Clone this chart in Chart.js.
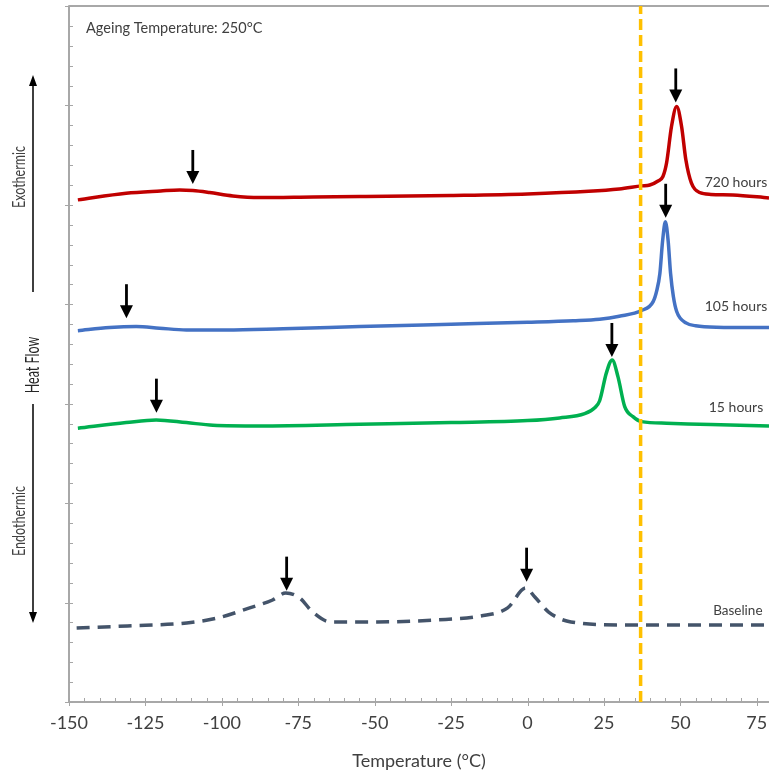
<!DOCTYPE html>
<html>
<head>
<meta charset="utf-8">
<script src="https://cdn.jsdelivr.net/npm/chart.js@4.4.1/dist/chart.umd.min.js"></script>
<style>
  html, body { margin: 0; padding: 0; background: #fff; }
</style>
</head>
<body>
<canvas id="canvas" width="769" height="774"></canvas>
<script>
// DSC heat flow traces after ageing at 250°C (curves offset vertically, arbitrary units)
const tempTicks = [-150, -125, -100, -75, -50, -25, 0, 25, 50, 75];

const t720 = [-147.1, -131.3, -120, -113.8, -109.5, -104, -96.4, -87.6, -70, -54.9, -25, 0, 20, 30, 37.3, 40, 42.7, 44.3, 45.5, 47.1, 48.8, 50.4, 51.8, 53.6, 56.3, 60, 67.2, 79];
const hf720 = [50.5, 51.17, 51.4, 51.5, 51.44, 51.24, 50.9, 50.74, 50.8, 50.84, 50.95, 51.1, 51.36, 51.6, 51.91, 52.0, 52.4, 52.85, 54.23, 57.88, 59.89, 57.88, 54.53, 52.21, 51.24, 51.05, 51.0, 50.7];

const t105 = [-147.1, -136.7, -128, -120.4, -111.6, -98.5, -80, -54.9, -25, 0, 15, 23.6, 30, 37.3, 41.1, 42.3, 43.3, 44.2, 45.1, 46.0, 46.8, 47.7, 48.8, 52, 55, 61.8, 79];
const hf105 = [37.35, 37.66, 37.76, 37.6, 37.42, 37.42, 37.55, 37.76, 38.0, 38.2, 38.35, 38.5, 38.8, 39.37, 40.27, 41.4, 43.1, 46.4, 48.29, 46.4, 43.1, 40.8, 39.27, 38.1, 37.85, 37.7, 37.66];

const t15 = [-147.1, -131.3, -121.5, -111.6, -102.9, -87.6, -54.9, -25, 0, 10.5, 18.7, 22, 23.6, 25.8, 27.7, 29.6, 31.8, 34.5, 37.3, 45.5, 60, 79];
const hf15 = [27.53, 28.1, 28.37, 28.1, 27.84, 27.77, 27.94, 28.1, 28.3, 28.57, 29.0, 29.6, 30.3, 33.1, 34.4, 32.7, 29.7, 28.7, 28.2, 28.04, 27.9, 27.77];

const tBase = [-147.5, -130.9, -111.5, -101.4, -90.9, -83.4, -79.1, -74.5, -70.3, -64.4, -49.3, -30.0, -15.3, -6.5, -0.6, 2.4, 6.9, 14.2, 32.2, 79];
const hfBase = [7.44, 7.65, 7.95, 8.45, 9.46, 10.26, 10.97, 10.46, 9.05, 8.05, 8.05, 8.25, 8.65, 9.46, 11.47, 10.56, 9.05, 8.05, 7.75, 7.75];

const seriesNames = ["720 hours", "105 hours", "15 hours", "Baseline"];
const seriesColors = ["#C00000", "#4472C4", "#00B050", "#44546A"];
const labelT = [68.2, 68.2, 68.2, 68.8];
const labelHF = [52.2, 39.8, 29.6, 9.15];

// peak markers: arrow tip positions
const arrowT = [-109.5, 48.5, -131.2, 45.2, -121.4, 27.6, -78.8, -0.3];
const arrowHF = [52.1, 60.3, 38.6, 48.7, 29.1, 34.7, 11.2, 12.1];

const limitT = 37;

function pts(xs, ys) {
  return xs.map((v, i) => ({ x: v, y: ys[i] }));
}

const FONT = "Lato, 'Open Sans', sans-serif";

const decor = {
  id: "decor",
  beforeDatasetsDraw(chart) {
    const { ctx, chartArea: a, scales: { x, y } } = chart;
    ctx.save();
    ctx.strokeStyle = "#8c8c8c";
    ctx.lineWidth = 1.5;
    ctx.beginPath();
    ctx.moveTo(a.right, a.top);
    ctx.lineTo(a.left, a.top);
    ctx.lineTo(a.left, a.bottom);
    ctx.lineTo(a.right, a.bottom);
    ctx.stroke();

    ctx.strokeStyle = "#a6a6a6";
    ctx.lineWidth = 1;
    ctx.beginPath();
    for (let v = -150; v <= x.max; v += 5) {
      const px = Math.round(x.getPixelForValue(v)) + 0.5;
      const major = v % 25 === 0;
      ctx.moveTo(px, a.bottom - 4);
      ctx.lineTo(px, a.bottom + (major ? 4 : 0));
    }
    for (let v = 0; v <= y.max; v += 2) {
      const py = Math.round(y.getPixelForValue(v)) + 0.5;
      const major = v % 10 === 0;
      ctx.moveTo(a.left + 4, py);
      ctx.lineTo(a.left - (major ? 4 : 0), py);
    }
    ctx.stroke();
    ctx.restore();
  },
  afterDatasetsDraw(chart) {
    const { ctx, scales: { x, y } } = chart;
    ctx.save();

    // arrows pointing at the peaks
    ctx.fillStyle = "#000";
    arrowT.forEach((t, i) => {
      const px = x.getPixelForValue(t);
      const py = y.getPixelForValue(arrowHF[i]);
      ctx.fillRect(px - 1.4, py - 34, 2.8, 23);
      ctx.beginPath();
      ctx.moveTo(px - 6.5, py - 13);
      ctx.lineTo(px + 6.5, py - 13);
      ctx.lineTo(px, py);
      ctx.closePath();
      ctx.fill();
    });

    // series names at the right
    ctx.fillStyle = "#404040";
    ctx.textBaseline = "middle";
    ctx.textAlign = "center";
    seriesNames.forEach((s, i) => {
      ctx.font = (i === 3 ? "13.5px " : "14px ") + FONT;
      ctx.fillText(s, x.getPixelForValue(labelT[i]), y.getPixelForValue(labelHF[i]));
    });

    ctx.textAlign = "left";
    ctx.font = "14.5px " + FONT;
    ctx.fillText("Ageing Temperature: 250°C", 86, 28);

    // heat flow direction on the left
    ctx.strokeStyle = "#000";
    ctx.lineWidth = 1.5;
    ctx.beginPath();
    ctx.moveTo(33, 82); ctx.lineTo(33, 292);
    ctx.moveTo(33, 404); ctx.lineTo(33, 616);
    ctx.stroke();
    ctx.fillStyle = "#000";
    ctx.beginPath();
    ctx.moveTo(29, 86); ctx.lineTo(37, 86); ctx.lineTo(33, 75); ctx.closePath();
    ctx.moveTo(29, 612); ctx.lineTo(37, 612); ctx.lineTo(33, 623); ctx.closePath();
    ctx.fill();

    // rotated labels are drawn a little wider than tall
    const vtext = (txt, cx, cy, size, sx, color) => {
      ctx.save();
      ctx.translate(cx, cy);
      ctx.rotate(-Math.PI / 2);
      ctx.scale(1, sx);
      ctx.textAlign = "center";
      ctx.textBaseline = "middle";
      ctx.font = size + "px " + FONT;
      ctx.fillStyle = color;
      ctx.fillText(txt, 0, 0);
      ctx.restore();
    };
    vtext("Exothermic", 20, 177, 12.5, 1.35, "#404040");
    vtext("Heat Flow", 33, 365, 12.5, 1.5, "#262626");
    vtext("Endothermic", 20, 521, 12.5, 1.35, "#404040");

    ctx.restore();
  }
};

const line = (i, xs, ys, extra) => Object.assign({
  label: seriesNames[i],
  data: pts(xs, ys),
  borderColor: seriesColors[i],
  borderWidth: 3.5,
  pointRadius: 0,
  cubicInterpolationMode: "monotone",
  fill: false,
  order: 1
}, extra || {});

new Chart("canvas", {
  type: "line",
  data: {
    datasets: [
      {
        label: "limit",
        data: [{ x: limitT, y: 0 }, { x: limitT, y: 70 }],
        borderColor: "#FFC000",
        borderWidth: 3.5,
        borderDash: [11, 5],
        pointRadius: 0,
        order: 0
      },
      line(0, t720, hf720),
      line(1, t105, hf105),
      line(2, t15, hf15),
      line(3, tBase, hfBase, { borderDash: [13, 8], borderWidth: 3.5 })
    ]
  },
  options: {
    responsive: false,
    animation: false,
    devicePixelRatio: 1,
    layout: { padding: { top: 6, left: 0, right: 0, bottom: 0 } },
    plugins: { legend: { display: false }, tooltip: { enabled: false } },
    scales: {
      x: {
        type: "linear",
        min: -150,
        max: 79,
        grid: { display: false },
        border: { display: false },
        afterBuildTicks: (s) => { s.ticks = tempTicks.map(v => ({ value: v })); },
        afterFit: (s) => { s.height = 72; s.paddingLeft = 0; s.paddingRight = 0; },
        ticks: {
          autoSkip: false,
          maxRotation: 0,
          padding: 2,
          color: "#404040",
          font: { family: FONT, size: 18 }
        },
        title: {
          display: true,
          text: "Temperature (°C)",
          color: "#404040",
          padding: { top: 0, bottom: 2 },
          font: { family: FONT, size: 18 }
        }
      },
      y: {
        type: "linear",
        min: 0,
        max: 70,
        grid: { display: false },
        border: { display: false },
        ticks: { display: false },
        afterFit: (s) => { s.width = 69; }
      }
    }
  },
  plugins: [decor]
});
</script>
</body>
</html>
